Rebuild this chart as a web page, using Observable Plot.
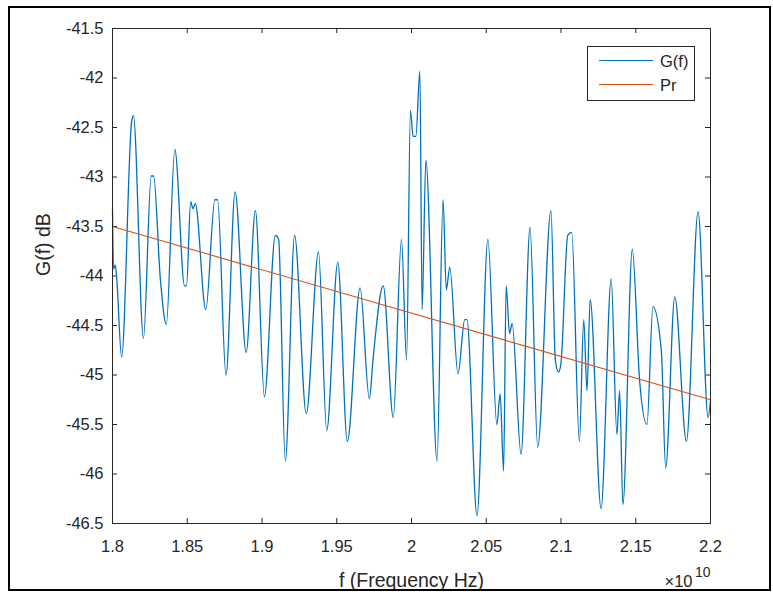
<!DOCTYPE html>
<html>
<head>
<meta charset="utf-8">
<script src="https://cdn.jsdelivr.net/npm/d3@7"></script>
<script src="https://cdn.jsdelivr.net/npm/@observablehq/plot@0.6"></script>
<style>
  html, body { margin: 0; padding: 0; background: #fff; }
  #wrap { position: relative; width: 773px; height: 592px; overflow: hidden;
          font-family: "Liberation Sans", Arial, Helvetica, sans-serif; }
  #chart { position: absolute; left: 0; top: 0; }
  #border { position: absolute; left: 8px; top: 6px; width: 759px; height: 581px;
            border: 2px solid #000; pointer-events: none; }
  #legend { position: absolute; left: 587px; top: 46px; width: 106px; height: 53px;
            border: 1px solid #262626; background: #fff; }
  #legend .row { position: absolute; left: 0; height: 20px; width: 106px; }
  #legend .sw { position: absolute; left: 11px; top: 9px; width: 54px; height: 0; }
  #legend .lab { position: absolute; left: 72px; top: 0; font-size: 16.5px; line-height: 20px; color: #262626; }
</style>
</head>
<body>
<div id="wrap">
  <div id="chart"></div>
  <div id="legend"></div>
  <div id="border"></div>
</div>
<script>
// G(f) readings: frequency in units of 1e10 Hz, gain in dB
const freq = [
  1.8000, 1.8007, 1.8018, 1.8027, 1.8061, 1.8128, 1.8140, 1.8207, 1.8259, 1.8275,
  1.8320, 1.8360, 1.8417, 1.8482, 1.8495, 1.8523, 1.8538, 1.8554, 1.8624, 1.8685,
  1.8703, 1.8759, 1.8820, 1.8894, 1.8956, 1.9016, 1.9089, 1.9111, 1.9156, 1.9218,
  1.9296, 1.9378, 1.9433, 1.9507, 1.9571, 1.9656, 1.9718, 1.9744, 1.9811, 1.9878,
  1.9933, 1.9967, 1.9993, 2.0011, 2.0029, 2.0056, 2.0071, 2.0096, 2.0171, 2.0211,
  2.0233, 2.0256, 2.0311, 2.0356, 2.0371, 2.0438, 2.0511, 2.0571, 2.0593, 2.0616,
  2.0633, 2.0656, 2.0673, 2.0733, 2.0793, 2.0844, 2.0933, 2.0962, 2.0984, 2.1000,
  2.1045, 2.1072, 2.1123, 2.1152, 2.1174, 2.1195, 2.1268, 2.1336, 2.1374, 2.1392,
  2.1414, 2.1477, 2.1526, 2.1575, 2.1615, 2.1671, 2.1700, 2.1761, 2.1839, 2.1917,
  2.1984, 2.2000
];
const gain = [
  -43.32, -43.93, -43.89, -44.00, -44.82, -42.44, -42.38, -44.63, -42.99, -42.99,
  -44.03, -44.49, -42.72, -44.10, -44.10, -43.25, -43.32, -43.27, -44.34, -43.23,
  -43.23, -45.00, -43.15, -44.77, -43.34, -45.22, -43.59, -43.63, -45.87, -43.59,
  -45.39, -43.76, -45.56, -43.86, -45.67, -44.12, -45.24, -44.82, -44.10, -45.43,
  -43.63, -44.85, -42.33, -42.59, -42.59, -41.93, -44.34, -42.83, -45.87, -43.23,
  -44.14, -43.91, -44.99, -44.44, -44.44, -46.42, -43.63, -45.50, -45.19, -45.97,
  -44.10, -44.58, -44.48, -45.80, -43.51, -45.73, -43.34, -44.85, -44.97, -44.88,
  -43.59, -43.56, -45.67, -44.44, -45.16, -44.24, -46.35, -44.03, -45.60, -45.16,
  -46.31, -43.73, -45.06, -45.50, -44.31, -44.75, -45.94, -44.21, -45.67, -43.35,
  -45.43, -45.26
];
// Pr line endpoints
const prFreq = [1.8, 2.2];
const prGain = [-43.5, -45.25];

const xTicks = [1.8, 1.85, 1.9, 1.95, 2, 2.05, 2.1, 2.15, 2.2];
const yTicks = [-46.5, -46, -45.5, -45, -44.5, -44, -43.5, -43, -42.5, -42, -41.5];

const seriesNames = ["G(f)", "Pr"];
const seriesColors = ["#0072BD", "#D95319"];

const G = freq.map((f, i) => ({f, g: gain[i]}));
const P = prFreq.map((f, i) => ({f, g: prGain[i]}));

const ink = "#262626";
const font = "'Liberation Sans', Arial, Helvetica, sans-serif";

const chart = Plot.plot({
  width: 773,
  height: 592,
  marginLeft: 112,
  marginRight: 63,
  marginTop: 28,
  marginBottom: 69,
  style: {fontFamily: font, fontSize: "16.5px", color: ink, background: "transparent"},
  x: {domain: [1.8, 2.2]},
  y: {domain: [-46.5, -41.5]},
  marks: [
    Plot.axisX(xTicks, {tickSize: 0, tickPadding: 17, tickFormat: d => String(d), label: null, fontSize: 16.5, fill: ink}),
    Plot.axisY(yTicks, {tickSize: 0, tickPadding: 9, tickFormat: d => String(d), label: null, fontSize: 16.5, fill: ink}),
    Plot.tickX(xTicks, {x: d => d, insetTop: 490, stroke: ink}),
    Plot.tickX(xTicks, {x: d => d, insetBottom: 490, stroke: ink}),
    Plot.tickY(yTicks, {y: d => d, insetRight: 593, stroke: ink}),
    Plot.tickY(yTicks, {y: d => d, insetLeft: 593, stroke: ink}),
    Plot.line(G, {x: "f", y: "g", stroke: seriesColors[0], strokeWidth: 1.3, curve: "monotone-x"}),
    Plot.line(P, {x: "f", y: "g", stroke: seriesColors[1], strokeWidth: 1.1}),
    Plot.frame({stroke: ink, strokeWidth: 1}),
    Plot.text(["f (Frequency Hz)"], {frameAnchor: "bottom", dy: 57, fontSize: 19.5, fill: ink, lineAnchor: "middle"}),
    Plot.text(["G(f) dB"], {frameAnchor: "left", dx: -69, rotate: -90, fontSize: 19.5, fill: ink, lineAnchor: "middle"}),
    Plot.text(["×10"], {frameAnchor: "bottom-right", textAnchor: "end", dx: -18, dy: 58, fontSize: 16.5, fill: ink, lineAnchor: "middle"}),
    Plot.text(["10"], {frameAnchor: "bottom-right", textAnchor: "end", dx: 0, dy: 49, fontSize: 14, fill: ink, lineAnchor: "middle"})
  ]
});
document.getElementById("chart").appendChild(chart);

// legend
const legend = document.getElementById("legend");
const rowTops = [4, 28];
seriesNames.forEach((name, i) => {
  const row = document.createElement("div");
  row.className = "row";
  row.style.top = rowTops[i] + "px";
  const sw = document.createElement("div");
  sw.className = "sw";
  sw.style.borderTop = (i === 0 ? "1.3px" : "1.1px") + " solid " + seriesColors[i];
  const lab = document.createElement("div");
  lab.className = "lab";
  lab.textContent = name;
  row.appendChild(sw);
  row.appendChild(lab);
  legend.appendChild(row);
});
</script>
</body>
</html>
